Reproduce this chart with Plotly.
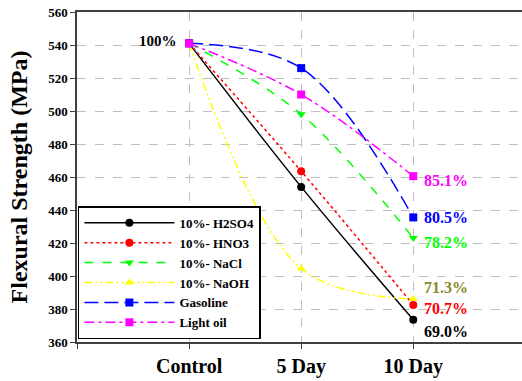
import plotly.graph_objects as go

categories = ["Control", "5 Day", "10 Day"]
x_pos = [1, 2, 3]
series_names = ["10%- H2SO4", "10%- HNO3", "10%- NaCl", "10%- NaOH", "Gasoline", "Light oil"]
h2so4 = [541, 454, 373.5]
hno3 = [541, 463.5, 382.5]
nacl = [541, 498, 423]
naoh = [541, 404.5, 386]
gasoline = [541, 526, 435.5]
light_oil = [541, 510, 460.5]
pct_labels = ["69.0%", "70.7%", "78.2%", "71.3%", "80.5%", "85.1%"]
y_ticks = [360, 380, 400, 420, 440, 460, 480, 500, 520, 540, 560]

values = [h2so4, hno3, nacl, naoh, gasoline, light_oil]
colors = ["#000000", "#FF0000", "#00FF00", "#FFFF00", "#0000FF", "#FF00FF"]
label_colors = ["#000000", "#FF0000", "#00FF00", "#8B8B2A", "#0000FF", "#FF00FF"]
dashes = ["solid", "dot", "dash", "8px,3px,2px,3px,2px,3px", "14px,6px", "10px,4px,3px,4px"]
symbols = ["circle", "circle", "triangle-down", "triangle-up", "square", "square"]
label_yshift = [-12, -4, -4, 12, 0, -4]

FONT = "'Liberation Serif', 'Times New Roman', Times, serif"
fig = go.Figure()
for name, v, c, d, s in zip(series_names, values, colors, dashes, symbols):
    fig.add_trace(go.Scatter(
        x=x_pos, y=v, name=name, mode="lines+markers",
        line=dict(color=c, dash=d, width=1.5, shape="spline", smoothing=1.0),
        marker=dict(symbol=s, size=8, color=c),
    ))

for lab, v, lc, ys in zip(pct_labels, values, label_colors, label_yshift):
    fig.add_annotation(x=x_pos[2], y=v[2], text=lab, showarrow=False,
                       xanchor="left", yanchor="middle", xshift=9, yshift=ys,
                       font=dict(family=FONT, size=16, color=lc, weight="bold"))
fig.add_annotation(x=x_pos[0], y=light_oil[0], text="100%", showarrow=False,
                   xanchor="right", yanchor="middle", xshift=-10, yshift=2,
                   font=dict(family=FONT, size=15, color="#000000", weight="bold"))

fig.update_layout(
    width=522, height=381,
    margin=dict(l=77, r=0, t=12, b=39, autoexpand=False),
    paper_bgcolor="white", plot_bgcolor="white",
    showlegend=True,
    legend=dict(x=0.002, y=0.008, xanchor="left", yanchor="bottom",
                bordercolor="#000000", borderwidth=1.5, bgcolor="white",
                font=dict(family=FONT, size=13, color="#000000", weight="bold"),
                itemwidth=90, tracegroupgap=0),
)
fig.update_xaxes(range=[0, 3.97], tickvals=[0, 1, 2, 3], ticktext=[""] + categories,
                 automargin=False,
                 showgrid=True, gridcolor="#BFBFBF", griddash="dash", gridwidth=1,
                 showline=True, linecolor="#404040", linewidth=1.5, mirror=True,
                 ticks="outside", ticklen=5, tickcolor="#404040", zeroline=False,
                 tickfont=dict(family=FONT, size=20, color="#000000", weight="bold"))
fig.update_yaxes(range=[360, 560], tickvals=y_ticks, automargin=False,
                 showgrid=True, gridcolor="#BFBFBF", griddash="dash", gridwidth=1,
                 showline=True, linecolor="#404040", linewidth=1.5, mirror=False,
                 ticks="outside", ticklen=5, tickcolor="#404040", zeroline=False,
                 tickfont=dict(family=FONT, size=13, color="#000000", weight="bold"),
                 title=dict(text="Flexural Strength (MPa)", standoff=14,
                            font=dict(family=FONT, size=24, color="#000000", weight="bold")))

fig.write_html("out.html", config={"displayModeBar": False},
               post_script="document.body.style.margin='0';document.body.style.overflow='hidden';")
